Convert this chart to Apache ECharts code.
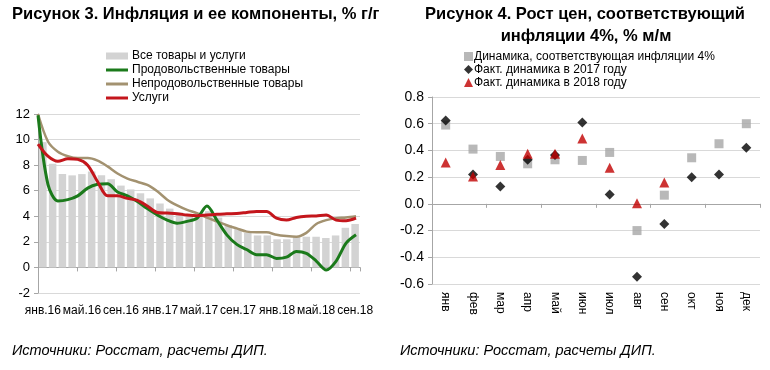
<!DOCTYPE html>
<html><head><meta charset="utf-8">
<script src="https://cdn.jsdelivr.net/npm/echarts@6/dist/echarts.min.js"></script>
<style>html,body{margin:0;padding:0;background:#fff}#c{width:770px;height:370px}</style>
</head><body><div id="c"></div>
<script>
// ---- Left chart data (% y/y) ----
const months = ['янв.16','фев.16','мар.16','апр.16','май.16','июн.16','июл.16','авг.16','сен.16','окт.16','ноя.16','дек.16',
  'янв.17','фев.17','мар.17','апр.17','май.17','июн.17','июл.17','авг.17','сен.17','окт.17','ноя.17','дек.17',
  'янв.18','фев.18','мар.18','апр.18','май.18','июн.18','июл.18','авг.18','сен.18'];
const allGoods = [9.8,8.1,7.3,7.2,7.3,7.5,7.2,6.9,6.4,6.1,5.8,5.4,5.0,4.6,4.3,4.1,4.1,4.4,3.9,3.3,3.0,2.7,2.5,2.5,2.2,2.2,2.4,2.4,2.4,2.3,2.5,3.1,3.4];
const food = [11.9,6.5,5.2,5.3,5.6,6.2,6.5,6.55,5.9,5.6,5.15,4.6,4.1,3.7,3.45,3.6,3.85,4.8,3.7,2.55,1.8,1.4,1.0,1.0,0.7,0.8,1.25,1.1,0.5,-0.2,0.5,1.9,2.55];
const nonFood = [12.0,9.85,9.05,8.7,8.55,8.55,8.35,7.9,7.35,6.95,6.7,6.45,5.95,5.3,4.85,4.5,4.25,3.9,3.6,3.3,3.05,2.8,2.75,2.75,2.55,2.45,2.4,2.7,3.4,3.7,3.85,3.9,4.0];
const services = [9.65,8.7,8.3,8.5,8.45,8.0,6.7,5.6,5.6,5.4,5.25,4.8,4.3,4.25,4.2,4.1,4.05,4.1,4.15,4.2,4.22,4.3,4.38,4.38,3.85,3.7,3.9,4.0,4.03,4.1,3.7,3.65,3.85];
const leftTicks = [-2,0,2,4,6,8,10,12];
const leftNames = ['Все товары и услуги','Продовольственные товары','Непродовольственные товары','Услуги'];

// ---- Right chart data (% m/m) ----
const months12 = ['янв','фев','мар','апр','май','июн','июл','авг','сен','окт','ноя','дек'];
const target4 = [0.59,0.41,0.355,0.30,0.33,0.325,0.385,-0.20,0.065,0.345,0.45,0.60];
const fact2017 = [0.625,0.22,0.13,0.33,0.365,0.61,0.07,-0.545,-0.15,0.20,0.22,0.42];
const fact2018 = [0.31,0.205,0.29,0.375,0.375,0.49,0.27,0.005,0.16];
const rightNames = ['Динамика, соответствующая инфляции 4%','Факт. динамика в 2017 году','Факт. динамика в 2018 году'];

const titleLeft = 'Рисунок 3. Инфляция и ее компоненты, % г/г';
const titleRight1 = 'Рисунок 4. Рост цен, соответствующий';
const titleRight2 = 'инфляции 4%, % м/м';
const footer = 'Источники: Росстат, расчеты ДИП.';

const F = '"Liberation Sans", Arial, sans-serif';
const TF = 'bold 17px "Liberation Sans", Arial, sans-serif';
const idx = a => a.map((v,i)=>[i,v]);

// condensed look for titles: squeeze horizontally to the reference width
const ctx = document.createElement('canvas').getContext('2d');
ctx.font = TF;
const sR = 320 / ctx.measureText(titleRight1).width;

const chart = echarts.init(document.getElementById('c'), null, {renderer:'canvas'});
chart.setOption({
  animation:false,
  backgroundColor:'#fff',
  textStyle:{fontFamily:F},
  grid:[
    {left:38, top:114, width:322, height:179},
    {left:432, top:97, width:328, height:187}
  ],
  xAxis:[
    {type:'category', gridIndex:0, data:months, boundaryGap:true,
     axisLine:{onZero:true, lineStyle:{color:'#a6a6a6', width:1}},
     axisTick:{show:true, interval:3, length:4, lineStyle:{color:'#a6a6a6'}},
     axisLabel:{show:false}, splitLine:{show:false}},
    {type:'category', gridIndex:0, data:months, boundaryGap:true, position:'bottom',
     axisLine:{show:false, onZero:false}, axisTick:{show:false},
     axisLabel:{interval:3, color:'#000', fontSize:12, margin:12, fontFamily:F}},
    {type:'value', gridIndex:0, min:0, max:32.4, show:false},
    {type:'category', gridIndex:1, data:months12, boundaryGap:true,
     axisLine:{onZero:true, lineStyle:{color:'#a6a6a6', width:1}},
     axisTick:{show:true, length:4, lineStyle:{color:'#a6a6a6'}},
     axisLabel:{show:false}},
    {type:'category', gridIndex:1, data:months12, boundaryGap:true, position:'bottom',
     axisLine:{show:false, onZero:false}, axisTick:{show:false},
     axisLabel:{interval:0, rotate:-90, color:'#000', fontSize:12, margin:8, fontFamily:F}}
  ],
  yAxis:[
    {type:'value', gridIndex:0, min:leftTicks[0], max:leftTicks[leftTicks.length-1], interval:2,
     axisLine:{show:true, lineStyle:{color:'#a6a6a6'}},
     axisTick:{show:true, length:4, lineStyle:{color:'#a6a6a6'}},
     axisLabel:{color:'#000', fontSize:13, margin:8, fontFamily:F},
     splitLine:{lineStyle:{color:'#d9d9d9'}}},
    {type:'value', gridIndex:1, min:-0.6, max:0.8, interval:0.2,
     axisLine:{show:true, lineStyle:{color:'#a6a6a6'}},
     axisTick:{show:true, length:4, lineStyle:{color:'#a6a6a6'}},
     axisLabel:{color:'#000', fontSize:14, margin:8, fontFamily:F, formatter:v=>v.toFixed(1)},
     splitLine:{lineStyle:{color:'#d9d9d9'}}}
  ],
  legend:[
    {orient:'vertical', left:101, top:44, itemWidth:22, itemHeight:7, itemGap:0,
     textStyle:{fontSize:12, color:'#000', fontFamily:F, padding:[0,0,0,-1], lineHeight:14},
     data:[{name:leftNames[0], icon:'rect'}]},
    {orient:'vertical', left:101, top:58, itemWidth:22, itemHeight:3, itemGap:0,
     textStyle:{fontSize:12, color:'#000', fontFamily:F, padding:[0,0,0,-1], lineHeight:14},
     data:[{name:leftNames[1], icon:'rect'},{name:leftNames[2], icon:'rect'},{name:leftNames[3], icon:'rect'}]},
    {orient:'vertical', left:459, top:45, itemWidth:9, itemHeight:9, itemGap:0,
     textStyle:{fontSize:12, color:'#000', fontFamily:F, padding:[0,0,0,-4], lineHeight:13},
     data:rightNames}
  ],
  series:[
    {name:leftNames[0], type:'bar', xAxisIndex:0, yAxisIndex:0, data:allGoods, barWidth:7.5,
     itemStyle:{color:'#d3d3d3'}},
    {name:leftNames[2], type:'line', xAxisIndex:2, yAxisIndex:0, data:idx(nonFood), smooth:0.3,
     symbol:'none', lineStyle:{color:'#a39270', width:2.5}, itemStyle:{color:'#a39270'}, z:3},
    {name:leftNames[1], type:'line', xAxisIndex:2, yAxisIndex:0, data:idx(food), smooth:0.3,
     symbol:'none', lineStyle:{color:'#1b7a1b', width:3}, itemStyle:{color:'#1b7a1b'}, z:4},
    {name:leftNames[3], type:'line', xAxisIndex:2, yAxisIndex:0, data:idx(services), smooth:0.3,
     symbol:'none', lineStyle:{color:'#c4161c', width:3}, itemStyle:{color:'#c4161c'}, z:5},
    {name:rightNames[0], type:'scatter', xAxisIndex:3, yAxisIndex:1, data:target4, symbol:'rect', symbolSize:9,
     itemStyle:{color:'#a6a6a6'}, z:3},
    {name:rightNames[1], type:'scatter', xAxisIndex:3, yAxisIndex:1, data:fact2017, symbol:'diamond', symbolSize:10,
     itemStyle:{color:'#000'}, z:4},
    {name:rightNames[2], type:'scatter', xAxisIndex:3, yAxisIndex:1, data:fact2018, symbol:'triangle', symbolSize:10,
     itemStyle:{color:'#c00000'}, z:5}
  ],
  graphic:[
    {type:'text', x:12, y:14, scaleX:sR, style:{text:titleLeft, font:TF, fill:'#000', textVerticalAlign:'middle'}},
    {type:'text', x:585, y:14, scaleX:sR, style:{text:titleRight1, font:TF, fill:'#000', textAlign:'center', textVerticalAlign:'middle'}},
    {type:'text', x:586, y:36, scaleX:sR, style:{text:titleRight2, font:TF, fill:'#000', textAlign:'center', textVerticalAlign:'middle'}},
    {type:'text', x:12, y:351, style:{text:footer, font:'italic 14.5px '+F, fill:'#000', textVerticalAlign:'middle'}},
    {type:'text', x:400, y:351, style:{text:footer, font:'italic 14.5px '+F, fill:'#000', textVerticalAlign:'middle'}}
  ]
});
</script></body></html>
